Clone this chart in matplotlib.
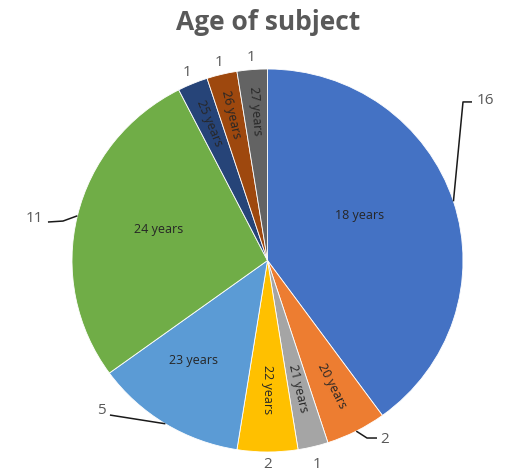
import numpy as np
import matplotlib
matplotlib.use("Agg")
import matplotlib.pyplot as plt

plt.rcParams['font.family'] = ['Open Sans', 'DejaVu Sans']

# age groups, counts of subjects, Office-style slice colours
ages = ['18 years', '20 years', '21 years', '22 years', '23 years',
        '24 years', '25 years', '26 years', '27 years']
counts = [16, 2, 1, 2, 5, 11, 1, 1, 1]
colors = ['#4472C4', '#ED7D31', '#A5A5A5', '#FFC000', '#5B9BD5',
          '#70AD47', '#264478', '#9E480E', '#636363']

# name label: radius fraction, angle shift (deg), radial rotation or flat
name_r = [0.53, 0.73, 0.68, 0.67, 0.64, 0.58, 0.78, 0.79, 0.79]
name_dt = [9, 0, 0, 0, -5, -3, 0, 0, 0]
name_radial = [False, True, True, True, False, False, True, True, True]

# value label: radius for plain labels, or leader path (elbow, end) + text pos
val_r = [None, None, 1.09, 1.06, None, None, 1.07, 1.07, 1.07]
leaders = {
    0: [(1.0, 0.828), (1.046, 0.828)],
    1: [(0.509, -0.927), (0.56, -0.927)],
    4: [(-0.806, -0.807)],
    5: [(-1.046, 0.206), (-1.123, 0.201)],
}
lead_text = {0: (1.07, 0.84, 'left'), 1: (0.575, -0.927, 'left'),
             4: (-0.83, -0.78, 'right'), 5: (-1.148, 0.222, 'right')}

W, H = 518, 477
fig = plt.figure(figsize=(W / 100, H / 100), dpi=100)
ax = fig.add_axes([0, 0, 1, 1])

wedges, _ = ax.pie(counts, colors=colors, startangle=90, counterclock=False,
                   wedgeprops=dict(edgecolor='white', linewidth=0.6))

# pie centre at (267.5, 261.5) px, radii 195.5 x 191.5 px
cx, cy, rx, ry = 267.5, 261.5, 195.5, 191.5
ax.set_aspect('auto')
ax.set_xlim(-cx / rx, (W - cx) / rx)
ax.set_ylim(-(H - cy) / ry, cy / ry)
ax.axis('off')

for i, w in enumerate(wedges):
    mid = np.deg2rad((w.theta1 + w.theta2) / 2)
    c, s = np.cos(mid), np.sin(mid)
    ang = np.rad2deg(mid)
    if name_radial[i]:
        rot = ang if c > 0.01 else ang - 180
        if abs(c) <= 0.01:
            rot = -90
    else:
        rot = 0
    la = mid + np.deg2rad(name_dt[i])
    ax.text(name_r[i] * np.cos(la), name_r[i] * np.sin(la), ages[i],
            rotation=rot, rotation_mode='anchor', ha='center', va='center',
            fontsize=9, color='#262626')

    if i in leaders:
        pts = [(c, s)] + leaders[i]
        xs, ys = zip(*pts)
        ax.plot(xs, ys, color='#1a1a1a', lw=1.1, solid_capstyle='butt')
        tx, ty, ha = lead_text[i]
        ax.text(tx, ty, str(counts[i]), ha=ha, va='center',
                fontsize=11, color='#595959')
    else:
        ax.text(val_r[i] * c, val_r[i] * s, str(counts[i]), ha='center',
                va='center', fontsize=11, color='#595959')

fig.text(268 / W, 1 - 22 / H, 'Age of subject', ha='center', va='center',
         fontsize=19, fontweight='bold', color='#595959')

fig.savefig('out.png', dpi=100)
